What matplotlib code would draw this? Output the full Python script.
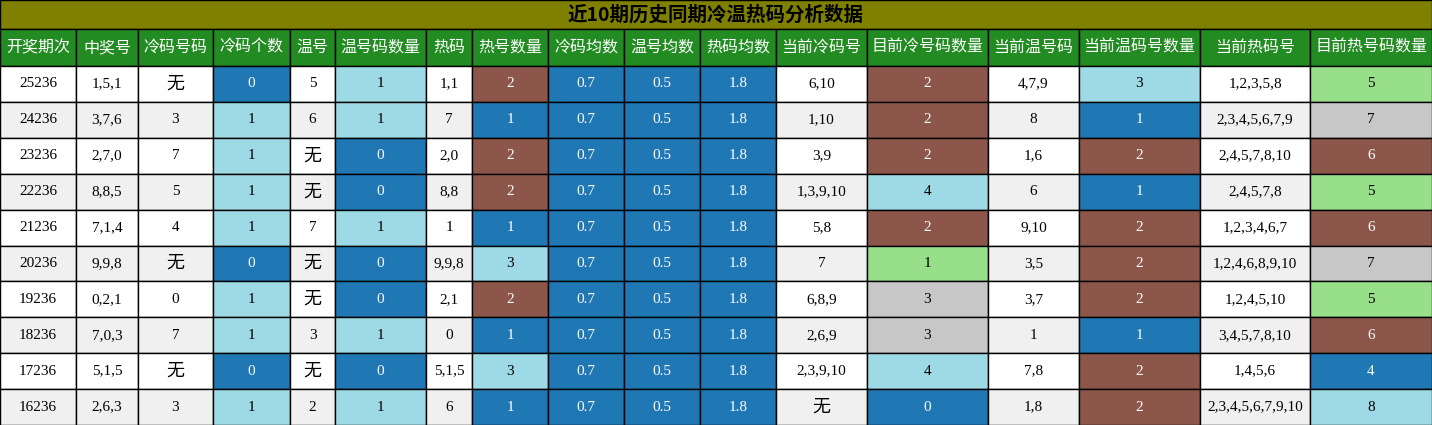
import matplotlib.pyplot as plt
from matplotlib.patches import Rectangle

plt.rcParams['font.family'] = ['Liberation Serif', 'Noto Sans CJK SC']

TITLE = "近10期历史同期冷温热码分析数据"
headers = ["开奖期次", "中奖号", "冷码号码", "冷码个数", "温号", "温号码数量", "热码", "热号数量",
           "冷码均数", "温号均数", "热码均数", "当前冷码号", "目前冷号码数量", "当前温号码",
           "当前温码号数量", "当前热码号", "目前热号码数量"]

periods = ["25236", "24236", "23236", "22236", "21236", "20236", "19236", "18236", "17236", "16236"]
winning = ["1,5,1", "3,7,6", "2,7,0", "8,8,5", "7,1,4", "9,9,8", "0,2,1", "7,0,3", "5,1,5", "2,6,3"]
cold_codes = ["无", "3", "7", "5", "4", "无", "0", "7", "无", "3"]
cold_count = [0, 1, 1, 1, 1, 0, 1, 1, 0, 1]
warm_codes = ["5", "6", "无", "无", "7", "无", "无", "3", "无", "2"]
warm_count = [1, 1, 0, 0, 1, 0, 0, 1, 0, 1]
hot_codes = ["1,1", "7", "2,0", "8,8", "1", "9,9,8", "2,1", "0", "5,1,5", "6"]
hot_count = [2, 1, 2, 2, 1, 3, 2, 1, 3, 1]
cold_avg = [0.7] * 10
warm_avg = [0.5] * 10
hot_avg = [1.8] * 10
cur_cold = ["6,10", "1,10", "3,9", "1,3,9,10", "5,8", "7", "6,8,9", "2,6,9", "2,3,9,10", "无"]
cur_cold_n = [2, 2, 2, 4, 2, 1, 3, 3, 4, 0]
cur_warm = ["4,7,9", "8", "1,6", "6", "9,10", "3,5", "3,7", "1", "7,8", "1,8"]
cur_warm_n = [3, 1, 2, 1, 2, 2, 2, 1, 2, 2]
cur_hot = ["1,2,3,5,8", "2,3,4,5,6,7,9", "2,4,5,7,8,10", "2,4,5,7,8", "1,2,3,4,6,7",
           "1,2,4,6,8,9,10", "1,2,4,5,10", "3,4,5,7,8,10", "1,4,5,6", "2,3,4,5,6,7,9,10"]
cur_hot_n = [5, 7, 6, 5, 6, 7, 5, 6, 4, 8]

columns = [periods, winning, cold_codes, cold_count, warm_codes, warm_count, hot_codes, hot_count,
           cold_avg, warm_avg, hot_avg, cur_cold, cur_cold_n, cur_warm, cur_warm_n, cur_hot, cur_hot_n]

DB, LB, BR, GR, GY = "#1f77b4", "#9edae5", "#8c564b", "#98df8a", "#c7c7c7"
# per-column value -> colour
cmaps = {
    3: {0: DB, 1: LB},
    5: {0: DB, 1: LB},
    7: {1: DB, 2: BR, 3: LB},
    8: {0.7: DB}, 9: {0.5: DB}, 10: {1.8: DB},
    12: {0: DB, 1: GR, 2: BR, 3: GY, 4: LB},
    14: {1: DB, 2: BR, 3: LB},
    16: {4: DB, 5: GR, 6: BR, 7: GY, 8: LB},
}

edges = [0, 76, 138, 213, 290, 335, 426, 472, 548, 624, 700, 776, 867, 988, 1079, 1200, 1310, 1432]
W, H = 1432, 425
title_h, head_h = 29, 37
row_h = (H - title_h - head_h) / 10

fig = plt.figure(figsize=(W / 100, H / 100), dpi=100)
ax = fig.add_axes([0, 0, 1, 1])
ax.set_xlim(0, W)
ax.set_ylim(H, 0)
ax.axis("off")

ax.add_patch(Rectangle((0, 0), W, title_h, facecolor="#808000", edgecolor="black", lw=1))
ax.text(W / 2, title_h / 2, TITLE, ha="center", va="center", fontsize=14, fontweight="bold",
        family=['Noto Sans CJK SC'])

for c, h in enumerate(headers):
    x0, x1 = edges[c], edges[c + 1]
    ax.add_patch(Rectangle((x0, title_h), x1 - x0, head_h, facecolor="#228b22", edgecolor="black", lw=1))
    ax.text((x0 + x1) / 2, title_h + head_h / 2, h, ha="center", va="center", fontsize=11.5,
            color="white", family=['Noto Sans CJK SC'])

for r in range(10):
    y0 = title_h + head_h + r * row_h
    base = "white" if r % 2 == 0 else "#f0f0f0"
    for c, col in enumerate(columns):
        x0, x1 = edges[c], edges[c + 1]
        v = col[r]
        fc = cmaps.get(c, {}).get(v, base)
        ax.add_patch(Rectangle((x0, y0), x1 - x0, row_h, facecolor=fc, edgecolor="black", lw=1))
        tc = "white" if fc in (DB, BR) else "black"
        s = str(v)
        fs = 13 if s == "无" else 11
        ax.text((x0 + x1) / 2, y0 + row_h / 2, s, ha="center", va="center", fontsize=fs, color=tc)

fig.savefig("out.png", dpi=100)
